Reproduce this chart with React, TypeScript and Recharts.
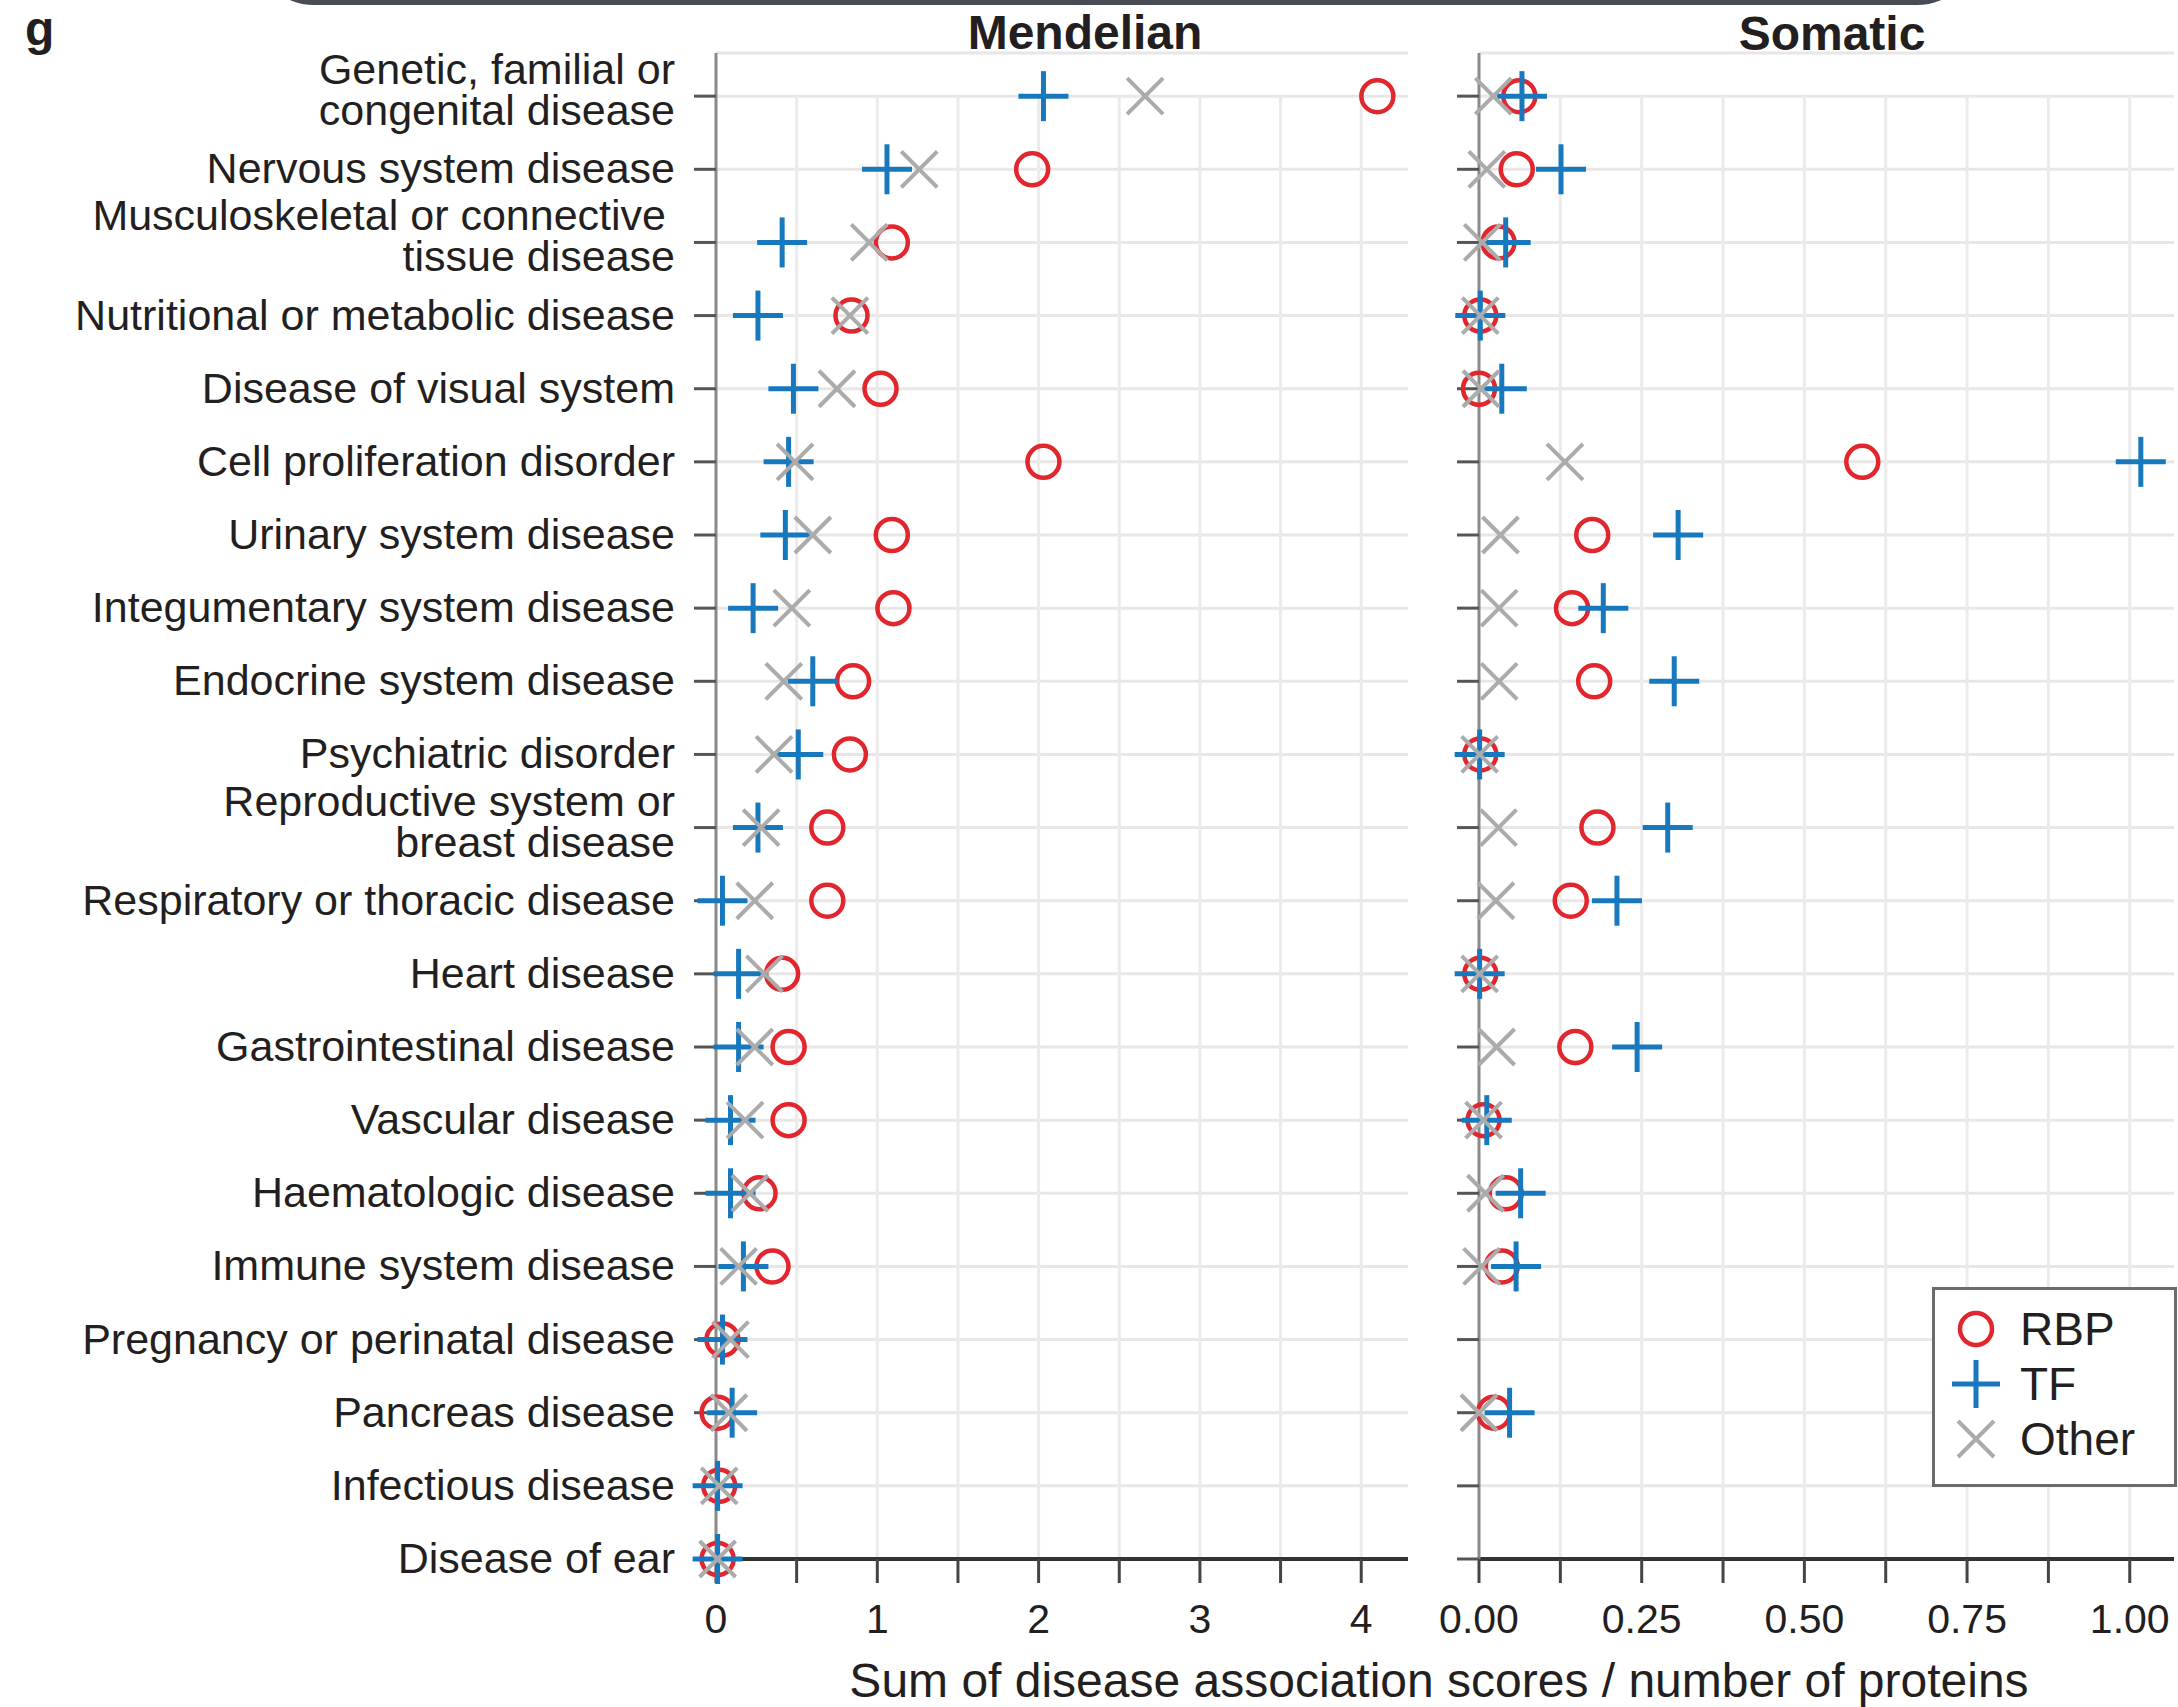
import React from 'react';
import { ScatterChart, Scatter, XAxis, YAxis, CartesianGrid, ReferenceLine, Legend } from 'recharts';

const categories: string[] = [
  'Genetic, familial or\ncongenital disease',
  'Nervous system disease',
  'Musculoskeletal or connective\ntissue disease',
  'Nutritional or metabolic disease',
  'Disease of visual system',
  'Cell proliferation disorder',
  'Urinary system disease',
  'Integumentary system disease',
  'Endocrine system disease',
  'Psychiatric disorder',
  'Reproductive system or\nbreast disease',
  'Respiratory or thoracic disease',
  'Heart disease',
  'Gastrointestinal disease',
  'Vascular disease',
  'Haematologic disease',
  'Immune system disease',
  'Pregnancy or perinatal disease',
  'Pancreas disease',
  'Infectious disease',
  'Disease of ear',
];

const mendelianRBP = [4.10, 1.96, 1.09, 0.84, 1.02, 2.03, 1.09, 1.10, 0.85, 0.83, 0.69, 0.69, 0.41, 0.45, 0.45, 0.27, 0.35, 0.04, 0.01, 0.02, 0.01];
const mendelianTF = [2.03, 1.06, 0.41, 0.26, 0.48, 0.45, 0.43, 0.23, 0.60, 0.51, 0.26, 0.04, 0.14, 0.14, 0.09, 0.09, 0.17, 0.04, 0.10, 0.01, 0.01];
const mendelianOther = [2.66, 1.26, 0.95, 0.83, 0.75, 0.49, 0.60, 0.47, 0.42, 0.36, 0.28, 0.24, 0.30, 0.24, 0.18, 0.21, 0.14, 0.09, 0.08, 0.02, 0.01];

const somaticRBP = [0.062, 0.058, 0.030, 0.002, 0.000, 0.589, 0.174, 0.143, 0.177, 0.002, 0.182, 0.141, 0.002, 0.148, 0.007, 0.041, 0.035, null, 0.023, null, null];
const somaticTF = [0.066, 0.126, 0.041, 0.002, 0.035, 1.017, 0.306, 0.191, 0.300, 0.001, 0.290, 0.212, 0.001, 0.243, 0.012, 0.064, 0.057, null, 0.047, null, null];
const somaticOther = [0.022, 0.012, 0.005, 0.002, 0.003, 0.132, 0.033, 0.031, 0.031, 0.001, 0.030, 0.026, 0.001, 0.027, 0.007, 0.010, 0.004, null, 0.000, null, null];

const mendelianTicks = [0, 0.5, 1, 1.5, 2, 2.5, 3, 3.5, 4];
const mendelianTickLabels = ['0', '', '1', '', '2', '', '3', '', '4'];
const somaticTicks = [0, 0.125, 0.25, 0.375, 0.5, 0.625, 0.75, 0.875, 1];
const somaticTickLabels = ['0.00', '', '0.25', '', '0.50', '', '0.75', '', '1.00'];

const seriesNames = ['RBP', 'TF', 'Other'];
const panelTitles = ['Mendelian', 'Somatic'];
const xAxisTitle = 'Sum of disease association scores / number of proteins';
const panelLetter = 'g';

const RED = '#e2262e';
const BLUE = '#1878bd';
const GRAY = '#ababab';
const TEXT = '#231f20';
const FONT = '"Liberation Sans", Arial, sans-serif';
const LABEL_SIZE = 43;

const yTicks = categories.map((_, i) => i);

const toPoints = (vals: (number | null)[]) =>
  vals.map((v, i) => (v === null ? null : { x: v, y: i })).filter((p) => p !== null) as { x: number; y: number }[];

const CircleShape = (p: any) => (
  <circle cx={p.cx} cy={p.cy} r={16} fill="none" stroke={RED} strokeWidth={4.5} />
);
const PlusShape = (p: any) => (
  <g stroke={BLUE} strokeWidth={5}>
    <line x1={p.cx - 25} y1={p.cy} x2={p.cx + 25} y2={p.cy} />
    <line x1={p.cx} y1={p.cy - 25} x2={p.cx} y2={p.cy + 25} />
  </g>
);
const CrossShape = (p: any) => (
  <g stroke={GRAY} strokeWidth={4}>
    <line x1={p.cx - 18} y1={p.cy - 18} x2={p.cx + 18} y2={p.cy + 18} />
    <line x1={p.cx - 18} y1={p.cy + 18} x2={p.cx + 18} y2={p.cy - 18} />
  </g>
);

const CategoryTick = (props: any) => {
  const { x, y, payload } = props;
  const lines = categories[payload.value].split('\n');
  if (lines.length === 1) {
    return (
      <text x={x} y={y + 14} textAnchor="end" fontSize={LABEL_SIZE} fill={TEXT} fontFamily={FONT}>
        {lines[0]}
      </text>
    );
  }
  return (
    <text textAnchor="end" fontSize={LABEL_SIZE} fill={TEXT} fontFamily={FONT}>
      <tspan x={x - (payload.value === 2 ? 9 : 0)} y={y - 12}>{lines[0]}</tspan>
      <tspan x={x} y={y + 29}>{lines[1]}</tspan>
    </text>
  );
};

const EmptyTick = () => <g />;

const legendShape = (name: string) => {
  if (name === 'RBP') return <circle cx={25} cy={25} r={16} fill="none" stroke={RED} strokeWidth={4.5} />;
  if (name === 'TF')
    return (
      <g stroke={BLUE} strokeWidth={5}>
        <line x1={1} y1={25} x2={49} y2={25} />
        <line x1={25} y1={1} x2={25} y2={49} />
      </g>
    );
  return (
    <g stroke={GRAY} strokeWidth={4}>
      <line x1={7} y1={7} x2={43} y2={43} />
      <line x1={7} y1={43} x2={43} y2={7} />
    </g>
  );
};

const LegendBox = () => (
  <div
    style={{
      position: 'relative',
      width: 245,
      height: 200,
      boxSizing: 'border-box',
      border: '3px solid #6b6b6b',
      background: '#fff',
      fontFamily: FONT,
    }}
  >
    {seriesNames.map((name, i) => (
      <div key={name} style={{ position: 'absolute', left: 0, top: 42 + i * 55 - 25 - 3, height: 50, width: 240 }}>
        <svg width={50} height={50} style={{ position: 'absolute', left: 16, top: 0 }}>
          {legendShape(name)}
        </svg>
        <div style={{ position: 'absolute', left: 85, top: 0, lineHeight: '50px', fontSize: 46, color: TEXT }}>{name}</div>
      </div>
    ))}
  </div>
);

const gridSegments = (ticks: number[]) =>
  ticks
    .filter((t) => t !== 0)
    .map((t) => (
      <ReferenceLine
        key={'g' + t}
        segment={[{ x: t, y: 0 }, { x: t, y: categories.length - 1 }]}
        stroke="#ebebeb"
        strokeWidth={3}
        ifOverflow="visible"
      />
    ));

const labelFor = (ticks: number[], labels: string[]) => (v: number) => {
  const idx = ticks.findIndex((t) => Math.abs(t - v) < 1e-9);
  return idx >= 0 ? labels[idx] : '';
};

export default function App() {
  const yDomain: [number, number] = [-0.59, categories.length - 1];
  return (
    <div style={{ position: 'absolute', left: 0, top: 0, width: 2178, height: 1707, background: '#fff', fontFamily: FONT, overflow: 'hidden' }}>
      <div style={{ position: 'absolute', left: 254, top: -195, width: 1723, height: 200, borderRadius: 60, background: '#474c54' }} />

      <div style={{ position: 'absolute', left: 0, top: 0 }}>
        <ScatterChart width={1420} height={1707} margin={{ top: 53, right: 12, bottom: 48, left: 0 }}>
          <CartesianGrid vertical={false} stroke="#e8e6e6" strokeWidth={3} />
          {gridSegments(mendelianTicks)}
          <XAxis
            type="number"
            dataKey="x"
            domain={[0, 4.29]}
            ticks={mendelianTicks}
            interval={0}
            tickFormatter={labelFor(mendelianTicks, mendelianTickLabels)}
            height={100}
            tickSize={24}
            tickMargin={21}
            axisLine={{ stroke: '#333', strokeWidth: 4 }}
            tickLine={{ stroke: '#444', strokeWidth: 3 }}
            tick={{ fontSize: 41, fill: TEXT, fontFamily: FONT }}
          />
          <YAxis
            type="number"
            dataKey="y"
            domain={yDomain}
            reversed
            ticks={yTicks}
            interval={0}
            width={716}
            tickSize={22}
            tickMargin={19}
            axisLine={{ stroke: '#8a8a8a', strokeWidth: 3 }}
            tickLine={{ stroke: '#555', strokeWidth: 3 }}
            tick={<CategoryTick />}
          />
          <Scatter name="RBP" data={toPoints(mendelianRBP)} shape={CircleShape} isAnimationActive={false} />
          <Scatter name="TF" data={toPoints(mendelianTF)} shape={PlusShape} isAnimationActive={false} />
          <Scatter name="Other" data={toPoints(mendelianOther)} shape={CrossShape} isAnimationActive={false} />
        </ScatterChart>
      </div>

      <div style={{ position: 'absolute', left: 1420, top: 0 }}>
        <ScatterChart width={758} height={1707} margin={{ top: 53, right: 4, bottom: 48, left: 0 }}>
          <CartesianGrid vertical={false} stroke="#e8e6e6" strokeWidth={3} />
          {gridSegments(somaticTicks)}
          <XAxis
            type="number"
            dataKey="x"
            domain={[0, 1.068]}
            ticks={somaticTicks}
            interval={0}
            tickFormatter={labelFor(somaticTicks, somaticTickLabels)}
            height={100}
            tickSize={24}
            tickMargin={21}
            axisLine={{ stroke: '#333', strokeWidth: 4 }}
            tickLine={{ stroke: '#444', strokeWidth: 3 }}
            tick={{ fontSize: 41, fill: TEXT, fontFamily: FONT }}
          />
          <YAxis
            type="number"
            dataKey="y"
            domain={yDomain}
            reversed
            ticks={yTicks}
            interval={0}
            width={59}
            tickSize={22}
            tickMargin={4}
            axisLine={{ stroke: '#8a8a8a', strokeWidth: 3 }}
            tickLine={{ stroke: '#555', strokeWidth: 3 }}
            tick={<EmptyTick />}
          />
          <Legend
            layout="horizontal"
            verticalAlign="middle"
            align="center"
            content={() => <LegendBox />}
            wrapperStyle={{ left: 512, top: 1287, width: 245, height: 200, right: 'auto', bottom: 'auto' }}
          />
          <Scatter name="RBP" data={toPoints(somaticRBP)} shape={CircleShape} isAnimationActive={false} />
          <Scatter name="TF" data={toPoints(somaticTF)} shape={PlusShape} isAnimationActive={false} />
          <Scatter name="Other" data={toPoints(somaticOther)} shape={CrossShape} isAnimationActive={false} />
        </ScatterChart>
      </div>

      <svg width={2178} height={1707} style={{ position: 'absolute', left: 0, top: 0, pointerEvents: 'none' }}>
        <text x={25} y={45} fontSize={48} fontWeight="bold" fill={TEXT} fontFamily={FONT}>{panelLetter}</text>
        <text x={1085} y={49} fontSize={48} fontWeight="bold" fill={TEXT} fontFamily={FONT} textAnchor="middle">{panelTitles[0]}</text>
        <text x={1832} y={50} fontSize={48} fontWeight="bold" fill={TEXT} fontFamily={FONT} textAnchor="middle">{panelTitles[1]}</text>
        <text x={1439} y={1697} fontSize={48} fill={TEXT} fontFamily={FONT} textAnchor="middle">{xAxisTitle}</text>
      </svg>
    </div>
  );
}
